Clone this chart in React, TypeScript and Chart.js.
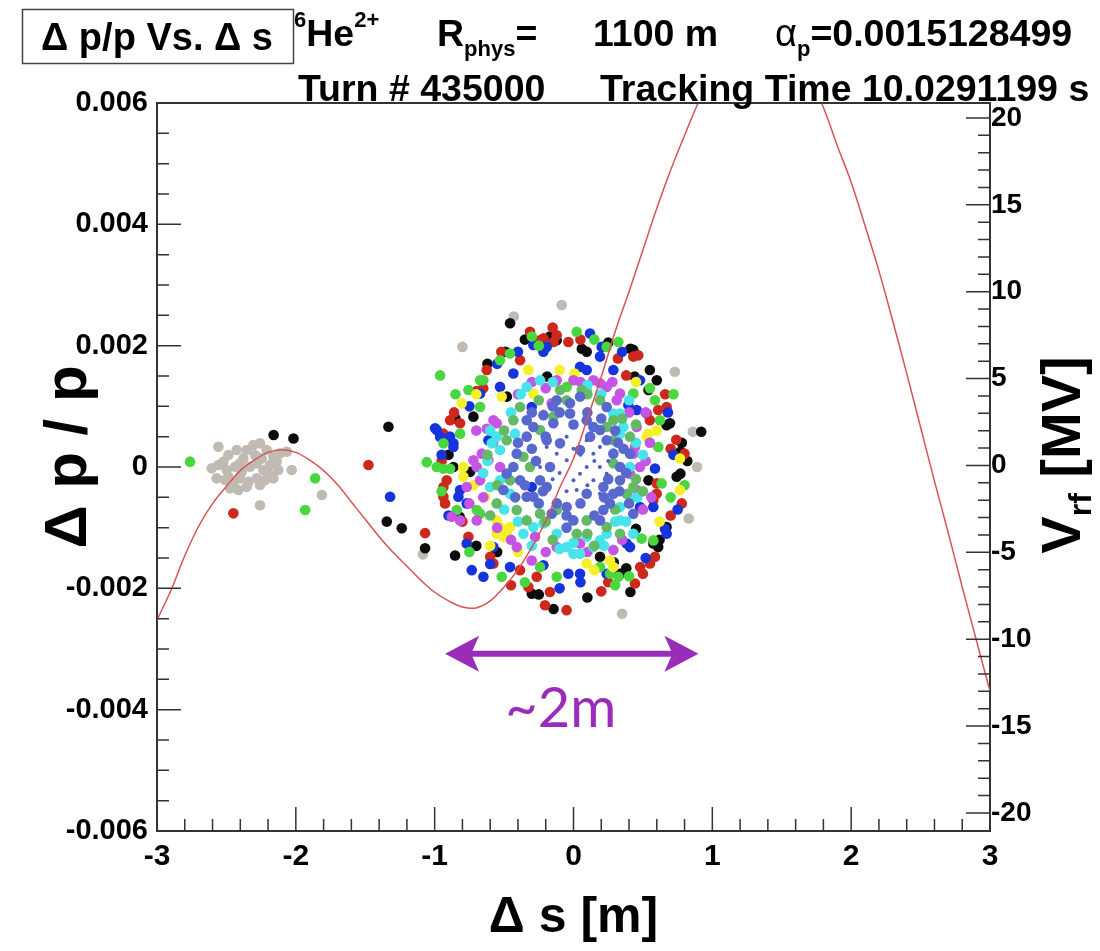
import { useEffect, useRef } from 'react';
import { Chart, registerables } from 'chart.js';

Chart.register(...registerables);

const FONT = '"Liberation Sans", Arial, Helvetica, sans-serif';
const AXIS = '#333333';
const PURPLE = '#9a2cba';

// ---- axis tick labels ----
const xMajorTicks = [-3, -2, -1, 0, 1, 2, 3];
const yMajorTicks = [-0.006, -0.004, -0.002, 0, 0.002, 0.004, 0.006];
const y2MajorTicks = [-20, -15, -10, -5, 0, 5, 10, 15, 20];
const y2AllTicks = [-20, -19, -18, -17, -16, -15, -14, -13, -12, -11, -10, -9, -8, -7, -6, -5, -4, -3, -2, -1, 0, 1, 2, 3, 4, 5, 6, 7, 8, 9, 10, 11, 12, 13, 14, 15, 16, 17, 18, 19, 20];

// ---- RF voltage curve (right axis, MV) ----
const curveS = [-3.0, -2.9, -2.8, -2.7, -2.6, -2.5, -2.4, -2.3, -2.2, -2.1, -2.0, -1.9, -1.8, -1.7, -1.6, -1.5, -1.4, -1.3, -1.2, -1.1, -1.0, -0.9, -0.8, -0.7, -0.6, -0.5, -0.4, -0.3, -0.2, -0.1, 0.0, 0.1, 0.2, 0.3, 0.4, 0.5, 0.6, 0.7, 0.8, 0.9, 1.0, 1.2, 1.4, 1.6, 1.8, 1.9, 2.0, 2.1, 2.2, 2.3, 2.4, 2.5, 2.6, 2.7, 2.8, 2.9, 3.0];
const curveV = [-8.9, -7.2, -5.2, -3.5, -2.2, -1.2, -0.3, 0.3, 0.75, 0.9, 0.75, 0.3, -0.3, -1.1, -2.1, -3.1, -4.1, -5.0, -5.8, -6.6, -7.3, -7.8, -8.15, -8.2, -7.8, -7.0, -6.0, -4.7, -3.2, -1.3, 0.4, 2.7, 5.1, 7.7, 10.0, 12.4, 14.8, 17.0, 19.0, 20.9, 22.5, 24.8, 25.6, 24.2, 20.6, 18.4, 16.3, 13.8, 11.2, 8.3, 5.3, 2.2, -0.9, -3.9, -7.0, -10.0, -13.0];

// ---- particles [Δs (m), Δp/p] ----
const grayPts: number[][] = [
  [-2.558, 0.000335], [-2.486, 0.000197], [-2.426, 0.00028], [-2.378, 0.000142], [-2.306, 0.000362], [-2.258, 0.00039], [-2.21, 0.00028], [-2.162, 0.00017], [-2.113, 0.000225], [-2.065, 0.000252],
  [-2.606, -0.000022], [-2.558, 0.000033], [-2.498, -0.00005], [-2.438, 0.000005], [-2.39, -0.000077], [-2.33, 0.000005], [-2.282, 0.00006], [-2.234, -0.00005], [-2.186, 0.000033], [-2.138, 0.000088],
  [-2.57, -0.000187], [-2.51, -0.000215], [-2.45, -0.00027], [-2.402, -0.000187], [-2.342, -0.000242], [-2.282, -0.000187], [-2.222, -0.000215], [-2.162, -0.000187], [-2.126, -0.00005], [-2.474, -0.000352],
  [-2.414, -0.00038], [-2.354, -0.000325], [-2.258, -0.000297], [-2.522, 0.000088], [-2.354, 0.00028], [-2.186, -0.000132], [-2.294, 0.000197], [-2.402, 0.00006], [-2.486, -0.00016], [-2.246, 0.000142],
  [-2.258, -0.00063], [-1.813, -0.000462], [-2.03, -0.00005], [-1.085, -0.00144],
  [-0.085, 0.00267], [-0.43, 0.00248], [-0.80, 0.00198], [0.73, 0.00157], [0.86, 0.00058], [0.89, 0.0], [0.83, -0.00085], [0.35, -0.00242],
];
const blackPts: number[][] = [
  [-2.16, 0.000527], [-2.017, 0.00047], [-1.333, 0.000664], [-1.345, -0.0009], [-1.237, -0.00101], [-1.069, -0.00134], [-0.853, -0.00146],
  [-0.457, 0.00237], [-0.17, 0.00215], [0.06, 0.00195], [0.095, 0.0019], [0.41, 0.00195], [0.44, 0.00149], [0.6, 0.00143], [0.54, 0.00127], [0.67, 0.00069], [0.92, 0.00058],
  [0.77, 0.00025], [0.77, -0.00011], [-0.49, 0.0019], [-0.82, -0.00082], [-0.745, -0.00008], [-0.55, -0.0014], [0.38, -0.00167], [0.41, -0.00206], [0.61, -0.00132], [0.67, -0.00099],
  [-0.30, -0.00209], [-0.144, -0.00234], [0.45, -0.00102], [0.54, -0.00022], [0.29, -0.00157], [-0.48, 0.00116], [-0.19, 0.00149],
  [0.431, 0.00193], [-0.121, 0.00209], [-0.721, 0.00083], [0.695, 0.00072], [0.743, -0.00016], [0.575, -0.00126], [0.335, -0.00176], [0.191, -0.00148], [-0.865, 0.0],
  [-0.62, 0.0017], [0.25, 0.00205], [0.78, 0.0004], [0.62, -0.0012], [-0.90, 0.0002], [-0.70, -0.0013], [0.10, -0.00215], [-0.35, 0.0021],
  [-0.85, 0.0008], [0.82, 0.0001], [-0.25, -0.0021], [0.55, 0.0016],
];
const redPts: number[][] = [
  [-2.45, -0.000764], [-1.477, 0.000033], [-1.069, -0.00109],
  [-0.313, 0.00223], [-0.216, 0.00212], [-0.144, 0.00206], [-0.037, 0.00206], [0.32, 0.00179], [0.467, 0.00184], [0.38, 0.00151], [-0.625, 0.0016], [-0.385, 0.00176],
  [-0.817, 0.00072], [-0.937, 0.00055], [0.61, 0.00094], [0.55, 0.00077], [0.70, 0.0003], [0.80, 0.00022], [0.60, -0.00027], [0.575, -0.00055], [-0.913, -0.00022],
  [-0.937, -0.00049], [-0.925, -0.0006], [-0.757, -0.00115], [-0.60, -0.00148], [-0.385, -0.0017], [-0.325, -0.00198], [-0.205, -0.00228], [-0.05, -0.00236], [-0.17, -0.00206],
  [0.443, -0.00192], [0.50, -0.00176], [0.587, -0.00148], [0.48, -0.00165],
  [-0.241, 0.00209], [-0.121, 0.00217], [0.431, 0.00182], [0.527, 0.00088], [0.671, 0.00099], [-0.889, 0.00077], [0.599, -0.00044], [-0.937, -0.00033], [-0.577, -0.00159], [-0.265, -0.00181], [0.551, -0.00159],
  [-0.70, 0.00125], [-0.86, 0.0009], [0.66, 0.0012], [0.74, 0.00045], [0.70, -0.0008], [-0.80, -0.0009], [-0.45, -0.00195], [0.20, -0.00205], [0.05, 0.0021], [-0.52, 0.0019],
  [-0.95, 0.0001], [0.78, -0.0006], [-0.15, 0.0023], [0.25, -0.0019], [-0.65, 0.0013],
];
const bluePts: number[][] = [
  [-1.321, -0.00049], [-0.997, 0.000637],
  [0.119, 0.0022], [-0.289, 0.00201], [-0.217, 0.0019], [0.203, 0.00198], [0.287, 0.0016], [-0.529, 0.00132], [-0.673, 0.00121], [-0.985, 0.00061], [-0.889, 0.0005],
  [-0.865, 0.00039], [-0.613, 0.00044], [-0.301, 0.00099], [0.395, 0.00102], [0.455, 0.00094], [0.587, -0.000025], [0.479, -0.00066], [0.659, -0.00102], [0.407, -0.00132],
  [-0.733, -0.0017], [-0.649, -0.00181], [-0.457, -0.00165], [-0.217, -0.00162], [-0.037, -0.00176], [0.239, -0.00176], [-0.769, -0.00126], [-0.829, -0.00049], [-0.817, -0.00038],
  [-0.301, -0.00033], [0.095, 0.0016], [0.047, 0.00165],
  [-0.193, 0.00198], [0.191, 0.00182], [-0.961, 0.0005], [-0.865, 0.00033], [0.575, -0.00066], [0.671, -0.0011], [0.383, -0.00126], [0.047, -0.00176], [-0.577, -0.00132], [-0.769, -0.0006], [-0.433, 0.00154], [0.479, 0.00143],
  [-0.40, 0.0019], [0.35, 0.0019], [0.72, 0.0002], [-0.95, 0.0002], [-0.60, -0.0016], [0.52, -0.0015], [-0.10, -0.0020], [0.68, 0.0009], [-0.75, 0.0010],
  [-0.55, 0.0017], [0.05, -0.0019], [0.75, -0.0007], [-0.90, -0.0008],
];
const greenPts: number[][] = [
  [-2.762, 0.000088], [-1.861, -0.000187], [-1.933, -0.00071],
  [-0.961, 0.00151], [0.023, 0.00223], [0.323, 0.00206], [-0.529, 0.00176], [-0.649, 0.00143], [-0.757, 0.00127], [-0.673, 0.00099], [-0.937, 0.00039], [-1.057, 0.00008],
  [-0.937, -0.00003], [-0.889, -0.00003], [0.587, 0.0011], [0.611, 0.00033], [0.635, -0.00027], [0.491, -0.00118], [0.323, -0.00181], [-0.121, -0.00181], [-0.517, -0.00181],
  [-0.049, 0.00132], [-0.673, -0.00077], [-0.841, -0.00071], [0.191, -0.00165],
  [0.239, 0.00198], [0.431, 0.00121], [0.623, 0.00077], [-0.673, 0.00143], [-0.985, 0.0], [-0.697, -0.00071], [0.575, -0.00121], [0.263, -0.00176], [-0.241, -0.00165], [-0.457, 0.00187], [-0.817, 0.00055],
  [-0.85, 0.0012], [-0.25, 0.0020], [0.15, 0.0021], [0.70, -0.0005], [0.40, -0.0018], [-0.35, -0.0019], [-0.95, -0.0004], [0.55, 0.0013], [0.80, -0.0003],
  [-0.30, 0.00215], [0.72, 0.0012], [-0.75, -0.0014], [0.30, -0.00195],
];
const yellowPts: number[][] = [
  [-0.805, 0.00105], [-0.325, 0.0016], [0.007, 0.00154], [-0.517, 0.00116], [0.539, 0.00055], [0.767, 0.00014], [0.767, -0.00038], [-0.553, -0.00088], [-0.529, -0.00099],
  [-0.481, -0.0011], [-0.553, -0.0011], [-0.637, -0.00049], [-0.793, -0.00016], [0.263, -0.00154], [0.095, -0.00159],
  [-0.457, -0.00099], [-0.505, -0.00115], [-0.793, 0.0], [0.527, 0.0005], [-0.289, 0.00121], [0.287, -0.00165],
  [-0.70, 0.0012], [0.60, 0.0006], [-0.40, -0.0014], [0.45, 0.0014], [-0.72, -0.0003], [0.15, -0.0017],
  [-0.60, -0.0013], [0.62, -0.0009], [-0.10, 0.0016],
];
const violetPts: number[][] = [
  [-0.121, 0.00143], [0.143, 0.00143], [0.239, 0.00132], [0.335, 0.00121], [-0.553, 0.00072], [-0.625, 0.00063], [-0.661, 0.00022], [-0.613, 0.00011], [-0.697, 0.0], [-0.529, 0.0],
  [-0.769, -0.00033], [-0.877, -0.00082], [-0.697, -0.00088], [0.443, 0.00033], [0.455, -0.00038], [0.431, 0.00022], [-0.277, -0.00115], [-0.121, -0.00132], [0.191, -0.00126],
  [-0.301, -0.00154], [0.287, -0.00137], [-0.157, 0.00105], [0.455, 0.00066],
  [0.0, 0.00143], [0.311, 0.0011], [-0.577, 0.00077], [-0.721, 0.00011], [-0.673, -0.00022], [0.407, -0.00011], [0.479, 0.0], [0.047, -0.00126], [-0.409, -0.00132], [0.191, 0.00138], [-0.817, -0.00088],
  [-0.40, 0.0012], [0.05, 0.0014], [0.52, 0.0001], [0.50, -0.0007], [-0.65, -0.0005], [-0.58, 0.0004], [-0.45, -0.0012], [0.35, -0.0012], [-0.20, 0.0013], [0.40, 0.0009],
  [-0.70, 0.0006], [-0.30, 0.0014], [0.28, 0.0014], [0.55, 0.0004], [0.56, -0.0005], [-0.55, -0.0010], [0.10, -0.0014], [-0.20, -0.0014], [-0.75, -0.0006], [0.52, 0.0009],
];
const cyanPts: number[][] = [
  [-0.589, 0.00039], [-0.553, 0.0005], [-0.421, 0.00055], [-0.241, 0.00143], [0.287, 0.00088], [0.359, 0.00066], [0.407, 0.0], [0.407, -0.00049], [0.335, -0.00088], [-0.217, -0.00093],
  [-0.361, -0.0011], [-0.049, -0.00132], [0.047, -0.00143], [0.143, -0.00132], [-0.457, -0.00044], [-0.601, -0.00033], [0.239, -0.0011], [0.095, -0.00115], [-0.121, -0.0011], [0.431, -0.0011],
  [-0.337, 0.00132], [0.095, 0.00127], [0.335, 0.00055], [-0.529, 0.00028], [-0.529, -0.00022], [0.335, -0.00066], [-0.289, -0.00099], [0.191, -0.00121], [-0.001, -0.00143], [0.335, 0.00088],
  [-0.45, 0.0009], [-0.15, 0.0014], [0.20, 0.0012], [0.45, 0.0004], [0.46, -0.0005], [-0.62, 0.0001], [-0.30, -0.0013], [0.00, -0.00125], [0.30, -0.0009], [-0.50, -0.0007],
  [-0.60, 0.0006], [-0.38, 0.0012], [0.10, 0.00135], [0.40, 0.0011], [0.50, 0.0002], [0.38, -0.0009], [-0.10, -0.00135], [-0.40, -0.0009], [-0.65, -0.0001], [0.22, -0.0013],
];
const slatePts: number[][] = [
  [-0.217, 0.000855], [-0.145, 0.00072], [-0.025, 0.00088], [-0.337, 0.0005], [-0.409, 0.00022], [-0.385, -0.00022], [-0.289, -0.00049], [-0.193, -0.00033], [-0.157, -0.00077], [-0.001, -0.00088],
  [0.095, -0.00044], [0.215, -0.00033], [0.215, -0.00071], [0.263, -0.0006], [0.239, 0.00044], [0.287, 0.00022], [0.191, 0.00061], [0.095, 0.00077], [0.335, -0.00022], [-0.505, -0.00038],
  [-0.481, -0.00011], [-0.169, 0.0], [-0.097, 0.00039], [0.047, 0.00028], [-0.337, 0.00077], [-0.121, 0.0011], [0.047, 0.00116], [0.407, 0.00022], [0.431, -0.00077],
  [-0.289, 0.00066], [-0.193, 0.00044], [0.143, 0.00066], [0.335, 0.0], [0.287, -0.00044], [-0.049, -0.00066], [-0.337, -0.00049], [-0.433, 0.0], [0.191, -0.00088], [-0.241, -0.00022], [-0.025, 0.00105], [0.239, 0.00099],
  [-0.30, 0.0003], [-0.35, -0.0003], [-0.25, -0.0006], [-0.05, -0.0008], [0.15, -0.0008], [0.33, -0.0004], [0.36, 0.0003], [0.30, 0.0006], [0.10, 0.0009], [-0.10, 0.0009], [-0.30, 0.0009], [0.25, -0.0002], [-0.20, 0.0005], [0.12, 0.0005],
  [-0.40, 0.0004], [-0.27, 0.0001], [-0.22, -0.0004], [-0.12, -0.0006], [0.05, -0.0006], [0.22, -0.0005], [0.38, -0.0001], [0.32, 0.0004], [0.20, 0.0008], [0.0, 0.0007], [-0.15, 0.0010], [-0.42, -0.0005], [0.40, -0.0006], [-0.05, -0.001],
];
const midGreenPts: number[][] = [
  [-0.097, 0.00127], [0.059, 0.00127], [0.191, 0.0011], [-0.241, 0.00061], [-0.481, 0.00044], [-0.361, 0.00017], [-0.409, -0.00071], [-0.241, -0.00077], [-0.121, -0.00071], [0.023, -0.0011],
  [0.239, -0.00099], [0.383, -0.00044], [0.287, 0.00006], [0.287, 0.00044], [0.239, 0.00066], [0.407, 0.0005], [-0.313, 0.0], [-0.553, -0.0006], [-0.433, 0.00077],
  [-0.385, 0.00099], [-0.145, 0.00083], [0.287, 0.00077], [0.431, -0.00033], [0.095, -0.00088], [-0.337, -0.00088], [-0.457, -0.00022], [0.335, -0.0011],
  [-0.50, 0.0006], [-0.55, -0.0003], [0.35, 0.0008], [0.45, -0.0002], [-0.20, -0.0009], [0.10, -0.0011], [-0.05, 0.0011], [0.30, -0.0007],
  [-0.62, 0.0002], [-0.25, 0.0011], [0.45, 0.0007], [0.50, -0.0004], [0.15, -0.0013], [-0.15, -0.0012], [-0.60, -0.0008], [0.10, 0.0012],
];
const tinyPts: number[][] = [
  [-0.049, 0.00011], [0.0, -0.00022], [0.095, 0.0], [0.143, 0.00022], [0.19, 0.0], [0.143, -0.00022], [0.047, -0.00011], [-0.121, 0.00022],
  [-0.049, 0.0005], [0.095, 0.00044], [0.239, -0.00011], [-0.193, 0.00033], [0.19, 0.00033], [0.023, -0.00038], [-0.241, 0.0], [0.19, -0.00044],
  [0.05, 0.0002], [-0.10, -0.0001], [0.25, 0.0001], [0.10, -0.0003], [-0.15, -0.0002], [0.00, 0.0003], [0.15, 0.0001], [-0.05, -0.0004],
];

// ---- annotation (data units) ----
const arrowFrom = -0.925;
const arrowTo = 0.9;
const arrowY = -0.00308;
const arrowText = '~2m';

const near = (v: number, list: number[], tol: number) => list.some((m) => Math.abs(m - v) < tol);

type Run = { t: string; size: number; dy?: number; w?: string };

function runText(ctx: CanvasRenderingContext2D, x: number, y: number, parts: Run[]) {
  let cx = x;
  for (const p of parts) {
    ctx.font = `${p.w ?? 'bold'} ${p.size}px ${FONT}`;
    ctx.fillText(p.t, cx, y + (p.dy ?? 0));
    cx += ctx.measureText(p.t).width;
  }
  return cx - x;
}

function measureRuns(ctx: CanvasRenderingContext2D, parts: Run[]) {
  let w = 0;
  for (const p of parts) {
    ctx.font = `${p.w ?? 'bold'} ${p.size}px ${FONT}`;
    w += ctx.measureText(p.t).width;
  }
  return w;
}

const decorPlugin = {
  id: 'decor',
  afterDraw(chart: any) {
    const { ctx, chartArea: a, scales } = chart;
    const sx = scales.x, sy = scales.y, sy2 = scales.y2;
    ctx.save();
    // inward tick marks
    ctx.strokeStyle = AXIS;
    ctx.lineWidth = 1.5;
    ctx.beginPath();
    for (const t of sx.ticks) {
      const p = sx.getPixelForValue(t.value);
      const len = near(t.value, xMajorTicks, 1e-6) ? 24 : 12;
      ctx.moveTo(p, a.bottom);
      ctx.lineTo(p, a.bottom - len);
    }
    for (const t of sy.ticks) {
      const p = sy.getPixelForValue(t.value);
      const len = near(t.value, yMajorTicks, 1e-9) ? 24 : 12;
      ctx.moveTo(a.left, p);
      ctx.lineTo(a.left + len, p);
    }
    for (const t of sy2.ticks) {
      const p = sy2.getPixelForValue(t.value);
      if (p > a.bottom - 3 || p < a.top + 3) continue;
      const len = near(t.value, y2MajorTicks, 1e-6) ? 24 : 12;
      ctx.moveTo(a.right, p);
      ctx.lineTo(a.right - len, p);
    }
    ctx.stroke();
    // top frame line
    ctx.lineWidth = 2;
    ctx.beginPath();
    ctx.moveTo(a.left, a.top);
    ctx.lineTo(a.right, a.top);
    ctx.stroke();

    // annotation arrow
    const x1 = sx.getPixelForValue(arrowFrom);
    const x2 = sx.getPixelForValue(arrowTo);
    const ya = sy.getPixelForValue(arrowY);
    ctx.strokeStyle = PURPLE;
    ctx.fillStyle = PURPLE;
    ctx.lineWidth = 6;
    ctx.beginPath();
    ctx.moveTo(x1 + 20, ya);
    ctx.lineTo(x2 - 20, ya);
    ctx.stroke();
    const head = (tip: number, dir: number) => {
      ctx.beginPath();
      ctx.moveTo(tip, ya);
      ctx.lineTo(tip + dir * 34, ya - 18);
      ctx.lineTo(tip + dir * 26, ya);
      ctx.lineTo(tip + dir * 34, ya + 18);
      ctx.closePath();
      ctx.fill();
    };
    head(x1, 1);
    head(x2, -1);
    ctx.font = `56px Lato, "Open Sans", sans-serif`;
    ctx.textAlign = 'center';
    ctx.textBaseline = 'alphabetic';
    ctx.fillText(arrowText, (x1 + x2) / 2 - 11, ya + 73);

    // header
    ctx.textAlign = 'left';
    ctx.fillStyle = '#000';
    ctx.strokeStyle = '#444';
    ctx.lineWidth = 1.5;
    ctx.strokeRect(22.5, 9.5, 271, 54);
    runText(ctx, 41, 50, [{ t: 'Δ p/p Vs. Δ s', size: 38 }]);
    runText(ctx, 294, 46, [
      { t: '6', size: 22, dy: -19 },
      { t: 'He', size: 37.5 },
      { t: '2+', size: 22, dy: -19 },
    ]);
    runText(ctx, 437, 46, [
      { t: 'R', size: 37.5 },
      { t: 'phys', size: 22, dy: 10 },
      { t: '=', size: 37.5 },
    ]);
    runText(ctx, 593, 46, [{ t: '1100 m', size: 37.5 }]);
    runText(ctx, 775, 46, [
      { t: 'α', size: 38, w: 'normal' },
      { t: 'p', size: 22, dy: 10 },
      { t: '=0.0015128499', size: 37.5 },
    ]);
    runText(ctx, 298, 101, [{ t: 'Turn # 435000', size: 37.5 }]);
    runText(ctx, 600, 101, [{ t: 'Tracking Time 10.0291199 s', size: 37.5 }]);

    // left axis title
    ctx.save();
    ctx.translate(86, 457);
    ctx.rotate(-Math.PI / 2);
    const leftParts: Run[] = [{ t: 'Δ p / p', size: 60 }];
    const lw = measureRuns(ctx, leftParts);
    runText(ctx, -lw / 2, 0, leftParts);
    ctx.restore();

    // right axis title
    ctx.save();
    ctx.translate(1080, 455);
    ctx.rotate(-Math.PI / 2);
    const rightParts: Run[] = [
      { t: 'V', size: 56 },
      { t: 'rf', size: 32, dy: 11 },
      { t: ' [MV]', size: 56 },
    ];
    const rw = measureRuns(ctx, rightParts);
    runText(ctx, -rw / 2, 0, rightParts);
    ctx.restore();

    ctx.restore();
  },
};

const pts = (arr: number[][]) => arr.map(([x, y]) => ({ x, y }));

export default function App() {
  const ref = useRef<HTMLCanvasElement | null>(null);
  useEffect(() => {
    document.body.style.margin = '0';
    const canvas = ref.current!;
    const dot = (label: string, data: number[][], color: string, r = 5.3) => ({
      label,
      data: pts(data),
      backgroundColor: color,
      borderWidth: 0,
      pointRadius: r,
      pointHoverRadius: r,
      showLine: false,
      yAxisID: 'y',
    });
    const chart = new Chart(canvas, {
      type: 'scatter',
      data: {
        datasets: [
          {
            label: 'Vrf',
            data: curveS.map((s, i) => ({ x: s, y: curveV[i] })),
            yAxisID: 'y2',
            showLine: true,
            borderColor: 'rgb(214,84,84)',
            borderWidth: 1.5,
            pointRadius: 0,
            tension: 0.35,
            fill: false,
          } as any,
          dot('tiny', tinyPts, 'rgb(80,95,200)', 2),
          dot('slate', slatePts, 'rgb(88,104,204)'),
          dot('midgreen', midGreenPts, 'rgb(100,186,100)'),
          dot('cyan', cyanPts, 'rgb(72,228,236)'),
          dot('violet', violetPts, 'rgb(198,84,228)'),
          dot('yellow', yellowPts, 'rgb(246,240,40)'),
          dot('green', greenPts, 'rgb(74,214,62)'),
          dot('blue', bluePts, 'rgb(22,52,220)'),
          dot('red', redPts, 'rgb(206,40,28)'),
          dot('black', blackPts, 'rgb(12,12,12)'),
          dot('gray', grayPts, 'rgb(192,186,178)'),
        ],
      },
      options: {
        responsive: false,
        animation: false,
        devicePixelRatio: 1,
        events: [],
        layout: { padding: { top: 103, left: 0, right: 0, bottom: 0 } },
        plugins: { legend: { display: false }, tooltip: { enabled: false } },
        scales: {
          x: {
            type: 'linear',
            min: -3,
            max: 3,
            afterFit: (s: any) => { s.height = 120; },
            grid: { display: false, drawTicks: false },
            border: { display: true, color: AXIS, width: 2 },
            ticks: {
              stepSize: 0.2,
              autoSkip: false,
              maxRotation: 0,
              padding: 8,
              color: '#000',
              font: { family: FONT, size: 30, weight: 'bold' },
              callback: (v: any) => (near(Number(v), xMajorTicks, 1e-6) ? String(Math.round(Number(v))) : ''),
            },
            title: {
              display: true,
              text: 'Δ s [m]',
              color: '#000',
              font: { family: FONT, size: 50, weight: 'bold' },
              padding: { top: 0, bottom: 3 },
            },
          },
          y: {
            type: 'linear',
            position: 'left',
            min: -0.006,
            max: 0.006,
            afterFit: (s: any) => { s.width = 157; },
            grid: { display: false, drawTicks: false },
            border: { display: true, color: AXIS, width: 2 },
            ticks: {
              stepSize: 0.0005,
              autoSkip: false,
              padding: 9,
              color: '#000',
              font: { family: FONT, size: 29, weight: 'bold' },
              callback: (v: any) => {
                const n = Number(v);
                if (!near(n, yMajorTicks, 1e-9)) return '';
                return Math.abs(n) < 1e-12 ? '0' : n.toFixed(3);
              },
            },
          },
          y2: {
            type: 'linear',
            position: 'right',
            min: -21.04,
            max: 20.86,
            afterFit: (s: any) => { s.width = 110; },
            afterBuildTicks: (s: any) => { s.ticks = y2AllTicks.map((v) => ({ value: v })); },
            grid: { display: false, drawTicks: false },
            border: { display: true, color: AXIS, width: 2 },
            ticks: {
              autoSkip: false,
              padding: 1,
              color: '#000',
              font: { family: FONT, size: 28, weight: 'bold' },
              callback: (v: any) => (near(Number(v), y2MajorTicks, 1e-6) ? String(Math.round(Number(v))) : ''),
            },
          },
        },
      } as any,
      plugins: [decorPlugin],
    });
    return () => chart.destroy();
  }, []);
  return (
    <div style={{ position: 'absolute', left: 0, top: 0, width: 1100, height: 951, background: '#fff' }}>
      <canvas ref={ref} width={1100} height={951} />
    </div>
  );
}
